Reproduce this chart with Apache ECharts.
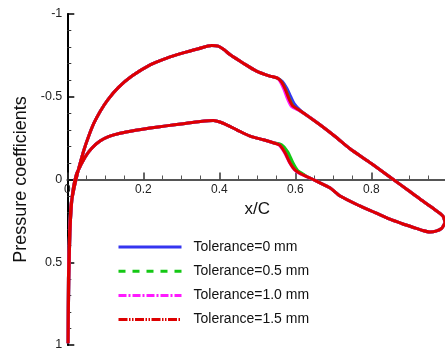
<!DOCTYPE html>
<html>
<head>
<meta charset="utf-8">
<script src="https://cdn.jsdelivr.net/npm/echarts@6/dist/echarts.min.js"></script>
<style>
  html, body { margin: 0; padding: 0; background: #fff; }
  #chart { width: 445px; height: 351px; }
</style>
</head>
<body>
<div id="chart"></div>
<script>
// Pressure distribution [x/C, Cp] around the section, traced as one closed loop:
// trailing edge -> lower-side aft -> shock -> lower front -> leading edge -> upper front -> shock -> upper aft.
const tailLowerAft = [
  [0.994, 0.26], [0.985, 0.295], [0.97, 0.312], [0.954, 0.317], [0.935, 0.308],
  [0.911, 0.29], [0.88, 0.266], [0.849, 0.24], [0.81, 0.2], [0.77, 0.16],
  [0.718, 0.10], [0.691, 0.05], [0.665, 0.02], [0.647, 0.0], [0.63, -0.018]
];
const lowerShockBlue    = [[0.617, -0.035], [0.603, -0.055], [0.591, -0.095], [0.578, -0.16], [0.562, -0.208]];
const lowerShockGreen   = [[0.619, -0.035], [0.606, -0.055], [0.594, -0.1], [0.58, -0.168], [0.564, -0.21]];
const lowerShockMagenta = [[0.612, -0.035], [0.597, -0.06], [0.584, -0.105], [0.571, -0.165], [0.557, -0.21]];
const lowerShockRed     = [[0.614, -0.035], [0.599, -0.058], [0.586, -0.1], [0.573, -0.162], [0.559, -0.208]];
const lowerFront = [
  [0.542, -0.222], [0.516, -0.24], [0.481, -0.262], [0.446, -0.3], [0.41, -0.34],
  [0.384, -0.356], [0.35, -0.35], [0.305, -0.337], [0.26, -0.324], [0.218, -0.311],
  [0.18, -0.297], [0.139, -0.279], [0.11, -0.26], [0.086, -0.232], [0.065, -0.19],
  [0.048, -0.14], [0.035, -0.085], [0.024, -0.03]
];
const leadingEdge = [
  [0.016, 0.05], [0.011, 0.15], [0.007, 0.32], [0.004, 0.6], [0.002, 0.99],
  [0.003, 0.6], [0.006, 0.32], [0.01, 0.15], [0.018, 0.05]
];
const upperFront = [
  [0.026, -0.03], [0.034, -0.1], [0.044, -0.18], [0.056, -0.26], [0.07, -0.34],
  [0.086, -0.41], [0.106, -0.48], [0.134, -0.555], [0.17, -0.625], [0.218, -0.693],
  [0.26, -0.732], [0.305, -0.765], [0.345, -0.79], [0.38, -0.81], [0.397, -0.806],
  [0.412, -0.785], [0.428, -0.755], [0.463, -0.703], [0.498, -0.655], [0.533, -0.625],
  [0.553, -0.613]
];
const upperShockBlue    = [[0.566, -0.592], [0.578, -0.55], [0.588, -0.5], [0.598, -0.455], [0.612, -0.42]];
const upperShockGreen   = [[0.564, -0.588], [0.574, -0.545], [0.584, -0.49], [0.594, -0.445], [0.61, -0.418]];
const upperShockMagenta = [[0.562, -0.585], [0.571, -0.54], [0.58, -0.485], [0.59, -0.442], [0.608, -0.42]];
const upperShockRed     = [[0.564, -0.588], [0.574, -0.543], [0.583, -0.49], [0.593, -0.445], [0.61, -0.42]];
const upperAft = [
  [0.635, -0.38], [0.665, -0.331], [0.705, -0.26], [0.744, -0.186], [0.8, -0.097],
  [0.858, 0.0], [0.895, 0.062], [0.928, 0.118], [0.965, 0.178], [0.988, 0.22], [0.994, 0.26]
];

const seriesNames = ['Tolerance=0 mm', 'Tolerance=0.5 mm', 'Tolerance=1.0 mm', 'Tolerance=1.5 mm'];
const seriesColors = ['#3535f0', '#14c814', '#ff1aff', '#dd0000'];
const legendDash = [
  'solid',
  [7, 7],
  [8, 2, 2, 2],
  [9, 1.5, 1.5, 1.5, 1.5, 1.5]
];
const lowerShocks = [lowerShockBlue, lowerShockGreen, lowerShockMagenta, lowerShockRed];
const upperShocks = [upperShockBlue, upperShockGreen, upperShockMagenta, upperShockRed];

const chart = echarts.init(document.getElementById('chart'), null, { renderer: 'canvas' });
const font = 'Arial, "Liberation Sans", Helvetica, sans-serif';

// plot box: Cp from -1 (top) to 1 (bottom); the x/C axis sits on Cp = 0
const gridTop = 14, gridHeight = 331;
const zeroOffset = -gridHeight / 2;

const series = seriesNames.map((name, i) => ({
  name: name,
  type: 'line',
  data: [].concat(tailLowerAft, lowerShocks[i], lowerFront, leadingEdge, upperFront, upperShocks[i], upperAft),
  showSymbol: false,
  symbol: 'none',
  smooth: 0.25,
  clip: false,
  lineStyle: { color: seriesColors[i], width: 3 },
  itemStyle: { color: seriesColors[i] },
  z: 2 + i,
  animation: false
}));

chart.setOption({
  animation: false,
  backgroundColor: '#ffffff',
  grid: { left: 67.3, top: gridTop, width: 380, height: gridHeight, containLabel: false, outerBoundsMode: 'none' },
  xAxis: {
    type: 'value',
    min: 0, max: 1, interval: 0.2,
    offset: zeroOffset,
    name: 'x/C', nameLocation: 'middle', nameGap: 18,
    nameTextStyle: { fontFamily: font, fontSize: 17, color: '#111' },
    axisLine: { onZero: false, lineStyle: { color: '#555', width: 2 } },
    axisTick: { inside: true, length: 7, lineStyle: { color: '#333', width: 1.5 } },
    minorTick: { show: true, splitNumber: 4, length: 4, lineStyle: { color: '#555', width: 1 } },
    splitLine: { show: false },
    axisLabel: { showMaxLabel: false, margin: 4, fontFamily: font, fontSize: 12, color: '#222',
      formatter: v => String(Math.round(v * 10) / 10) }
  },
  yAxis: {
    type: 'value',
    inverse: true,
    min: -1, max: 1, interval: 0.5,
    name: 'Pressure coefficients', nameLocation: 'middle', nameGap: 36, nameRotate: 90,
    nameTextStyle: { fontFamily: font, fontSize: 18, color: '#111' },
    axisLine: { onZero: false, lineStyle: { color: '#000', width: 2 } },
    axisTick: { inside: true, length: 7, lineStyle: { color: '#000', width: 1.5 } },
    minorTick: { show: true, splitNumber: 5, length: 4, lineStyle: { color: '#333', width: 1 } },
    splitLine: { show: false },
    axisLabel: { margin: 5, fontFamily: font, fontSize: 12.5, color: '#222',
      formatter: v => String(v) }
  },
  legend: {
    orient: 'vertical',
    left: 117, top: 240,
    padding: 0,
    itemWidth: 63, itemHeight: 14, itemGap: 10.2,
    itemStyle: { opacity: 0 },
    textStyle: { fontFamily: font, fontSize: 14, color: '#111', padding: [0, 0, 0, 7] },
    data: seriesNames.map((n, i) => ({ name: n, lineStyle: { type: legendDash[i], width: 3 } }))
  },
  series: series
});
</script>
</body>
</html>
